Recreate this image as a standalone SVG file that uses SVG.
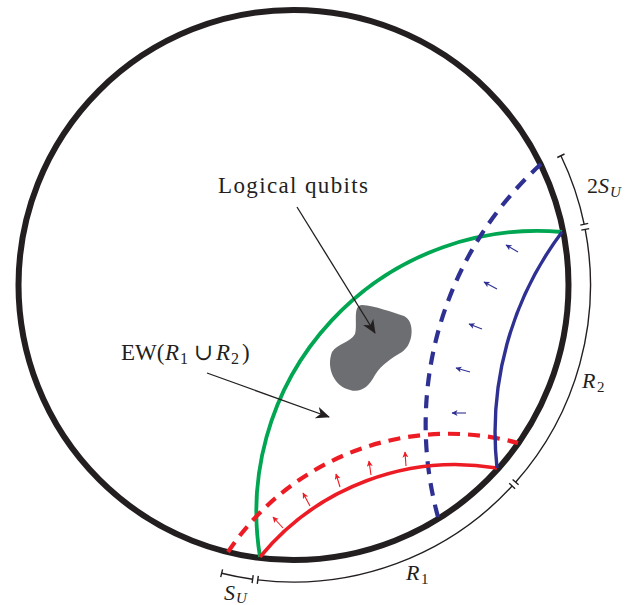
<svg xmlns="http://www.w3.org/2000/svg" width="634" height="605" viewBox="0 0 634 605">
<style>
.t{font-family:'Liberation Serif','DejaVu Serif',serif;fill:#231f20}
.i{font-style:italic}
.bound{fill:none;stroke:#231f20;stroke-width:1.4}
.geo{fill:none;stroke-linecap:butt}
</style>
<defs>
<marker id="ah" markerUnits="userSpaceOnUse" markerWidth="16" markerHeight="14" refX="13" refY="6" orient="auto">
<path d="M0,0 L14,6 L0,12 L4,6 z" fill="#231f20"/>
</marker>
<marker id="ahr" markerUnits="userSpaceOnUse" markerWidth="8" markerHeight="8" refX="5.5" refY="3" orient="auto">
<path d="M0,0 L6,3 L0,6 L1.5,3 z" fill="#ed1c24"/>
</marker>
<marker id="ahb" markerUnits="userSpaceOnUse" markerWidth="8" markerHeight="8" refX="5.5" refY="3" orient="auto">
<path d="M0,0 L6,3 L0,6 L1.5,3 z" fill="#2e3192"/>
</marker>
</defs>
<rect width="634" height="605" fill="#ffffff"/>

<g id="boundary">
<circle cx="293.5" cy="285" r="275" fill="none" stroke="#231f20" stroke-width="6"/>
</g>

<g id="blob">
<path d="M362 305 C375 306 392 312 404 316 C415 321 414 344 402 352 C392 358 382 364 375 375 C368 388 360 393 350 390 C334 386 326 368 332 352 C338 343 350 343 355 334 C358 325 352 305 362 305 Z" fill="#6d6e71"/>
</g>

<g id="connectors">
<path id="green" class="geo" d="M260 557 A281 281 0 0 1 562 232" stroke="#00a651" stroke-width="3.8"/>
<path id="red-dashed" class="geo" d="M228 552 A265 265 0 0 1 518 443" stroke="#ed1c24" stroke-width="4.2" stroke-dasharray="12 8"/>
<path id="blue-dashed" class="geo" d="M541 164 A352 352 0 0 0 438 517" stroke="#2e3192" stroke-width="4.2" stroke-dasharray="13 9"/>
<path id="red-solid" class="geo" d="M260 557 A253 253 0 0 1 497 468" stroke="#ed1c24" stroke-width="3.6"/>
<path id="blue-solid" class="geo" d="M562 232 A333 333 0 0 0 497 468" stroke="#2e3192" stroke-width="3.4"/>

<g stroke="#2e3192" stroke-width="1.1" marker-end="url(#ahb)">
<line x1="518" y1="252" x2="506" y2="245"/>
<line x1="497" y1="289" x2="484" y2="282"/>
<line x1="482" y1="329" x2="469" y2="324"/>
<line x1="470" y1="372" x2="456" y2="368"/>
<line x1="466" y1="413" x2="452" y2="413"/>
</g>
<g stroke="#ed1c24" stroke-width="1.1" marker-end="url(#ahr)">
<line x1="283" y1="528" x2="273" y2="517"/>
<line x1="310" y1="506" x2="303" y2="493"/>
<line x1="340" y1="487" x2="336" y2="474"/>
<line x1="371" y1="475" x2="369" y2="461"/>
<line x1="406" y1="466" x2="405" y2="452"/>
</g>

<line x1="297" y1="207" x2="375" y2="333" stroke="#231f20" stroke-width="1.3" marker-end="url(#ah)"/>
<line x1="207" y1="373" x2="329" y2="417" stroke="#231f20" stroke-width="1.3" marker-end="url(#ah)"/>

<g id="interval-SU">
<path class="bound" d="M221.65 573.2 A297 297 0 0 0 252.7 579.2"/>
<path class="bound" d="M222.6 569.3 L220.7 577.1 M253.2 575.2 L252.1 583.1"/>
</g>
<g id="interval-R1">
<path class="bound" d="M257.8 579.9 A297 297 0 0 0 512.1 486.0"/>
<path class="bound" d="M258.3 575.9 L257.3 583.8 M509.2 483.3 L515.1 488.7"/>
</g>
<g id="interval-R2">
<path class="bound" d="M515.6 482.2 A297 297 0 0 0 585.2 229.3"/>
<path class="bound" d="M512.6 479.5 L518.6 484.8 M581.3 230.1 L589.2 228.6"/>
</g>
<g id="interval-2SU">
<path class="bound" d="M584.2 224.3 A297 297 0 0 0 560.9 155.7"/>
<path class="bound" d="M580.3 225.1 L588.2 223.4 M557.3 157.5 L564.5 154.0"/>
</g>
</g>

<g id="label-logical">
<text class="t" font-family="Liberation Serif, DejaVu Serif, serif" x="218" y="193" font-size="23" textLength="150" lengthAdjust="spacing">Logical qubits</text>
</g>
<g id="label-ew">
<text class="t" font-family="Liberation Serif, DejaVu Serif, serif" font-size="23" y="360"><tspan x="121">EW(</tspan><tspan class="i" x="165">R</tspan><tspan x="180" y="364" font-size="16">1</tspan><tspan x="194" y="360">∪</tspan><tspan class="i" x="216">R</tspan><tspan x="231" y="364" font-size="16">2</tspan><tspan x="242" y="360">)</tspan></text>
</g>
<g id="label-2SU">
<text class="t" font-family="Liberation Serif, DejaVu Serif, serif" font-size="22" y="193"><tspan x="587">2</tspan><tspan class="i" x="598">S</tspan><tspan class="i" x="610" y="197" font-size="15">U</tspan></text>
</g>
<g id="label-R2">
<text class="t" font-family="Liberation Serif, DejaVu Serif, serif" font-size="22" y="388"><tspan class="i" x="582">R</tspan><tspan x="597" y="392" font-size="15">2</tspan></text>
</g>
<g id="label-R1">
<text class="t" font-family="Liberation Serif, DejaVu Serif, serif" font-size="22" y="580"><tspan class="i" x="406">R</tspan><tspan x="421" y="584" font-size="15">1</tspan></text>
</g>
<g id="label-SU">
<text class="t" font-family="Liberation Serif, DejaVu Serif, serif" font-size="22" y="600"><tspan class="i" x="224">S</tspan><tspan class="i" x="236" y="603" font-size="15">U</tspan></text>
</g>
</svg>
